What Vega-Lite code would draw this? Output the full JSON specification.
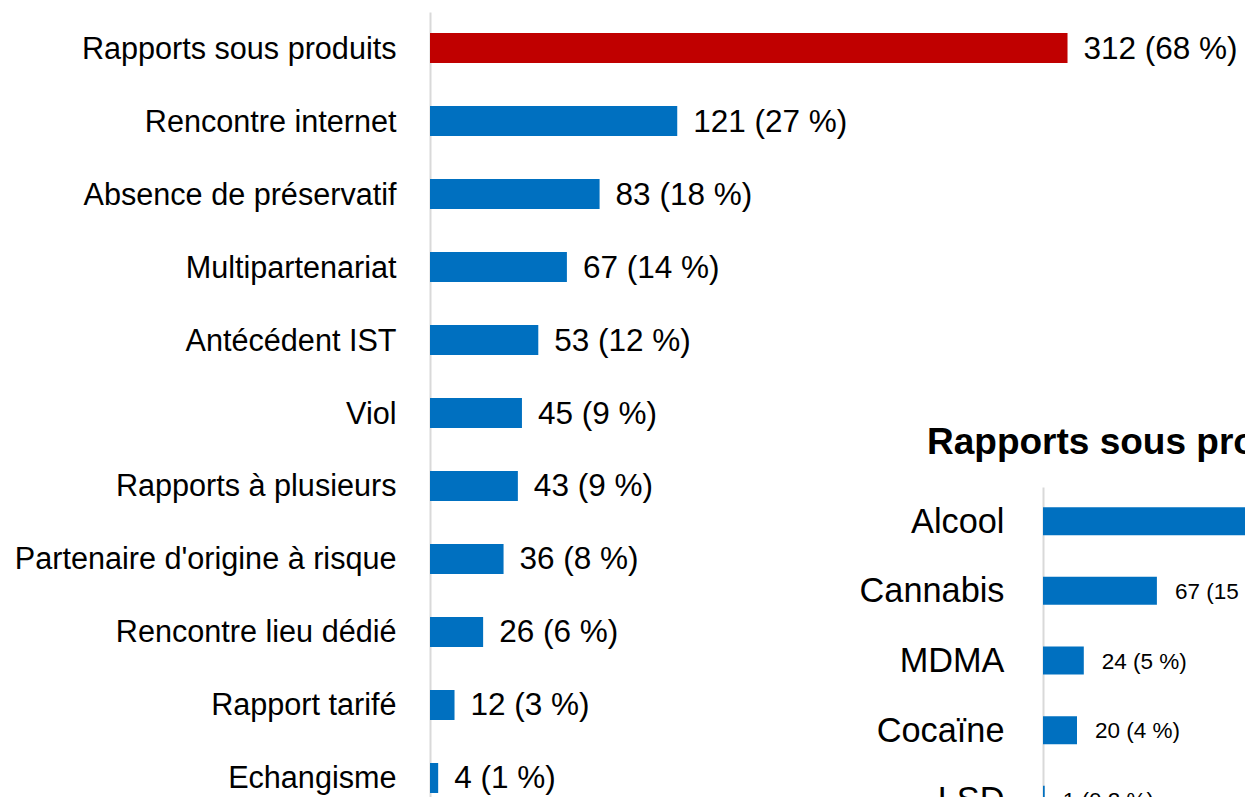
{
  "$schema": "https://vega.github.io/schema/vega-lite/v6.json",
  "padding": {"left": 14, "top": 12, "right": 0, "bottom": 0},
  "background": "white",
  "config": {"view": {"stroke": null}, "font": "Liberation Sans"},
  "spacing": 0,
  "bounds": "flush",
  "hconcat": [
    {
      "width": 613,
      "height": 802,
      "data": {"values": [
        {"cat": "Rapports sous produits", "n": 312, "label": "312 (68 %)"},
        {"cat": "Rencontre internet", "n": 121, "label": "121 (27 %)"},
        {"cat": "Absence de préservatif", "n": 83, "label": "83 (18 %)"},
        {"cat": "Multipartenariat", "n": 67, "label": "67 (14 %)"},
        {"cat": "Antécédent IST", "n": 53, "label": "53 (12 %)"},
        {"cat": "Viol", "n": 45, "label": "45 (9 %)"},
        {"cat": "Rapports à plusieurs", "n": 43, "label": "43 (9 %)"},
        {"cat": "Partenaire d'origine à risque", "n": 36, "label": "36 (8 %)"},
        {"cat": "Rencontre lieu dédié", "n": 26, "label": "26 (6 %)"},
        {"cat": "Rapport tarifé", "n": 12, "label": "12 (3 %)"},
        {"cat": "Echangisme", "n": 4, "label": "4 (1 %)"}
      ]},
      "encoding": {
        "y": {"field": "cat", "type": "nominal", "sort": null,
              "scale": {"paddingInner": 0.589, "paddingOuter": 0.288},
              "axis": {"title": null, "ticks": false, "domainColor": "#d9d9d9", "domainWidth": 2,
                       "labelFontSize": 30.6, "labelColor": "#000000", "labelPadding": 34, "labelOffset": 1.5,
                       "labelFont": "Liberation Sans", "labelLimit": 600}},
        "x": {"field": "n", "type": "quantitative", "scale": {"domain": [0, 300], "nice": false}, "axis": null}
      },
      "layer": [
        {"mark": {"type": "bar"},
         "encoding": {"color": {"condition": {"test": "datum.cat === 'Rapports sous produits'", "value": "#C00000"}, "value": "#0070C0"}}},
        {"mark": {"type": "text", "align": "left", "baseline": "middle", "dx": 16, "dy": 1.5, "fontSize": 31.5, "font": "Liberation Sans", "color": "#000000"},
         "encoding": {"text": {"field": "label"}}}
      ]
    },
    {
      "spacing": 0,
      "bounds": "flush",
      "vconcat": [
        {"width": 1, "height": 475, "data": {"values": [{}]}, "mark": {"type": "point", "opacity": 0}, "encoding": {}},
        {
          "width": 255,
          "height": 347,
          "title": {"text": "Rapports sous produits", "anchor": "start", "frame": "group", "dx": -116, "offset": -4, "baseline": "alphabetic",
                    "fontSize": 37, "fontWeight": "bold", "font": "Liberation Sans", "color": "#000000"},
          "data": {"values": [
            {"cat": "Alcool", "n": 247, "label": "247 (54 %)"},
            {"cat": "Cannabis", "n": 67, "label": "67 (15 %)"},
            {"cat": "MDMA", "n": 24, "label": "24 (5 %)"},
            {"cat": "Cocaïne", "n": 20, "label": "20 (4 %)"},
            {"cat": "LSD", "n": 1, "label": "1 (0,2 %)"}
          ]},
          "encoding": {
            "y": {"field": "cat", "type": "nominal", "sort": null,
                  "scale": {"paddingInner": 0.598, "paddingOuter": 0.29},
                  "axis": {"title": null, "ticks": false, "domainColor": "#d9d9d9", "domainWidth": 2,
                           "labelFontSize": 34.3, "labelColor": "#000000", "labelPadding": 39, "labelOffset": 1.5,
                           "labelFont": "Liberation Sans", "labelLimit": 600}},
            "x": {"field": "n", "type": "quantitative", "scale": {"domain": [0, 150], "nice": false}, "axis": null}
          },
          "layer": [
            {"mark": {"type": "bar", "color": "#0070C0"}},
            {"mark": {"type": "text", "align": "left", "baseline": "middle", "dx": 18, "dy": 1, "fontSize": 22.5, "font": "Liberation Sans", "color": "#000000"},
             "encoding": {"text": {"field": "label"}}}
          ]
        }
      ]
    }
  ]
}
